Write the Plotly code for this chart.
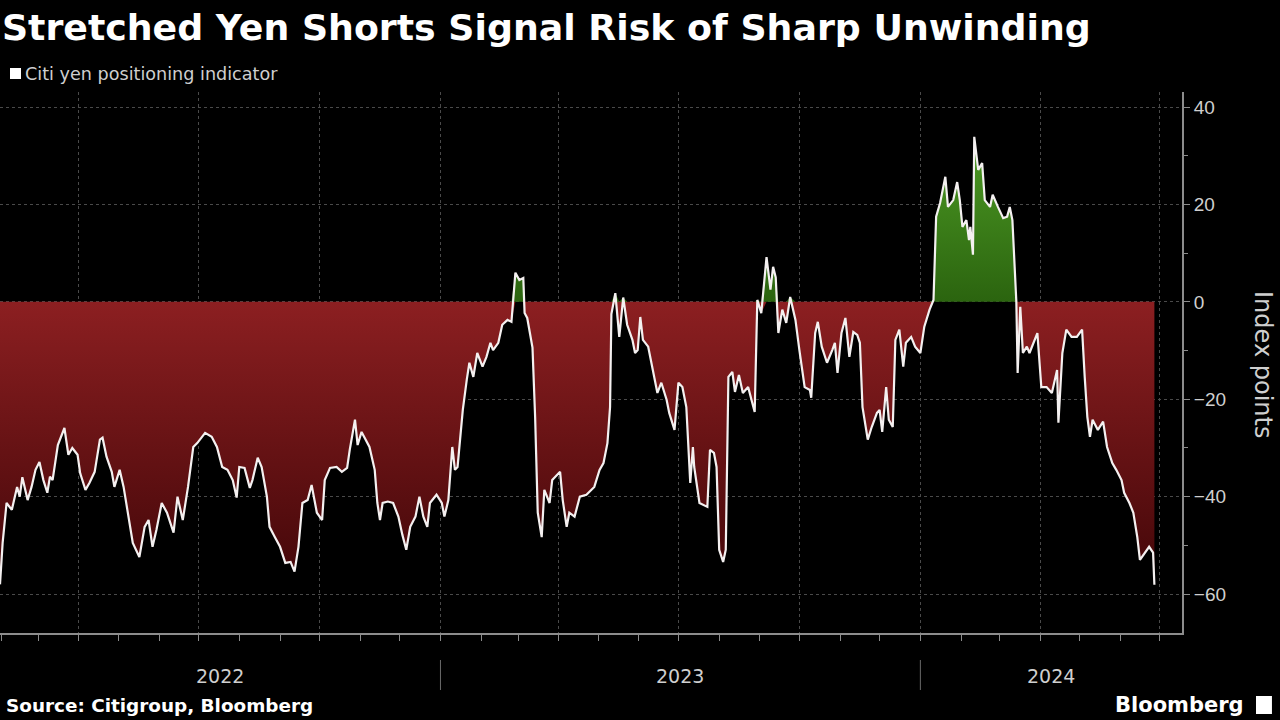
import plotly.graph_objects as go

dates = [
"2022-01-31","2022-02-02","2022-02-05","2022-02-09","2022-02-13","2022-02-15","2022-02-17","2022-02-21","2022-02-24","2022-02-27",
"2022-03-02","2022-03-05","2022-03-08","2022-03-10","2022-03-12","2022-03-16","2022-03-21","2022-03-24","2022-03-27","2022-03-31",
"2022-04-02","2022-04-06","2022-04-09","2022-04-13","2022-04-17","2022-04-19","2022-04-22","2022-04-26","2022-04-28","2022-05-02",
"2022-05-05","2022-05-08","2022-05-12","2022-05-17","2022-05-21","2022-05-24","2022-05-27","2022-05-30","2022-06-03","2022-06-07",
"2022-06-12","2022-06-15","2022-06-19","2022-06-23","2022-06-27","2022-06-30","2022-07-06","2022-07-11","2022-07-15","2022-07-19",
"2022-07-23","2022-07-27","2022-07-30","2022-08-01","2022-08-05","2022-08-09","2022-08-11","2022-08-15","2022-08-18","2022-08-22",
"2022-08-24","2022-08-28","2022-09-01","2022-09-05","2022-09-09","2022-09-12","2022-09-15","2022-09-18","2022-09-22","2022-09-25",
"2022-09-29","2022-10-03","2022-10-05","2022-10-09","2022-10-14","2022-10-18","2022-10-22","2022-10-24","2022-10-28","2022-10-30",
"2022-11-02","2022-11-08","2022-11-12","2022-11-14","2022-11-16","2022-11-18","2022-11-22","2022-11-26","2022-11-30","2022-12-03",
"2022-12-06","2022-12-09","2022-12-13","2022-12-16","2022-12-19","2022-12-22","2022-12-24","2022-12-29","2023-01-02","2023-01-04",
"2023-01-07","2023-01-10","2023-01-12","2023-01-14","2023-01-18","2023-01-21","2023-01-23","2023-01-26","2023-01-29","2023-02-02",
"2023-02-05","2023-02-08","2023-02-10","2023-02-14","2023-02-17","2023-02-21","2023-02-24","2023-02-27","2023-03-02","2023-03-05",
"2023-03-06","2023-03-08","2023-03-12","2023-03-14","2023-03-16","2023-03-19","2023-03-21","2023-03-25","2023-03-27","2023-04-02",
"2023-04-04","2023-04-07","2023-04-09","2023-04-13","2023-04-17","2023-04-22","2023-04-28","2023-05-02","2023-05-05","2023-05-08",
"2023-05-10","2023-05-11","2023-05-14","2023-05-17","2023-05-20","2023-05-23","2023-05-27","2023-05-29","2023-05-31","2023-06-02",
"2023-06-04","2023-06-08","2023-06-12","2023-06-15","2023-06-18","2023-06-22","2023-06-24","2023-06-28","2023-07-01","2023-07-04",
"2023-07-07","2023-07-10","2023-07-12","2023-07-13","2023-07-17","2023-07-23","2023-07-25","2023-07-28","2023-07-30","2023-08-01",
"2023-08-04","2023-08-06","2023-08-08","2023-08-11","2023-08-13","2023-08-16","2023-08-19","2023-08-23","2023-08-28","2023-08-30",
"2023-09-02","2023-09-06","2023-09-09","2023-09-11","2023-09-13","2023-09-15","2023-09-18","2023-09-21","2023-09-24","2023-09-28",
"2023-10-01","2023-10-05","2023-10-09","2023-10-10","2023-10-13","2023-10-15","2023-10-18","2023-10-22","2023-10-26","2023-10-28",
"2023-10-30","2023-11-02","2023-11-05","2023-11-08","2023-11-11","2023-11-14","2023-11-16","2023-11-18","2023-11-22","2023-11-25",
"2023-11-29","2023-12-01","2023-12-03","2023-12-06","2023-12-08","2023-12-11","2023-12-13","2023-12-16","2023-12-19","2023-12-21",
"2023-12-25","2023-12-28","2024-01-01","2024-01-04","2024-01-08","2024-01-11","2024-01-13","2024-01-16","2024-01-20","2024-01-22",
"2024-01-26","2024-01-29","2024-01-31","2024-02-02","2024-02-05","2024-02-07","2024-02-08","2024-02-10","2024-02-11","2024-02-14",
"2024-02-17","2024-02-19","2024-02-23","2024-02-25","2024-02-29","2024-03-04","2024-03-07","2024-03-09","2024-03-11","2024-03-14",
"2024-03-15","2024-03-17","2024-03-19","2024-03-22","2024-03-24","2024-03-28","2024-03-30","2024-04-02","2024-04-06","2024-04-10",
"2024-04-14","2024-04-15","2024-04-18","2024-04-21","2024-04-25","2024-04-29","2024-05-03","2024-05-05","2024-05-07","2024-05-09",
"2024-05-11","2024-05-15","2024-05-19","2024-05-22","2024-05-26","2024-05-29","2024-06-02","2024-06-04","2024-06-08","2024-06-11",
"2024-06-14","2024-06-16","2024-06-20","2024-06-23","2024-06-26","2024-06-27",
]

values = [
-58.0,-49.5,-41.3,-42.7,-38.0,-40.0,-36.0,-40.7,-38.0,-34.5,
-32.9,-36.6,-39.2,-35.9,-36.6,-29.4,-25.9,-31.4,-30.0,-31.4,
-35.2,-38.6,-37.2,-34.9,-28.3,-27.9,-31.8,-34.9,-38.0,-34.5,
-38.0,-43.3,-49.5,-52.4,-46.2,-44.8,-50.3,-46.8,-41.3,-43.3,
-47.4,-40.0,-44.8,-38.0,-29.8,-29.0,-26.9,-27.7,-29.8,-33.9,
-34.5,-36.6,-40.2,-33.9,-34.1,-38.2,-36.6,-32.0,-33.9,-40.0,
-46.2,-48.3,-50.3,-53.6,-53.4,-55.4,-50.3,-41.3,-40.7,-37.6,
-43.3,-44.8,-36.6,-34.1,-33.9,-34.9,-34.1,-30.4,-24.2,-29.4,
-26.7,-29.8,-34.5,-41.3,-44.8,-41.3,-41.0,-41.3,-44.1,-47.8,
-50.9,-46.2,-44.1,-40.0,-44.1,-46.2,-41.3,-39.6,-41.3,-44.1,
-40.7,-29.8,-34.5,-33.9,-22.2,-16.0,-12.5,-15.4,-10.5,-13.3,
-11.3,-8.4,-9.9,-8.4,-4.7,-3.7,-4.1,6.0,4.5,4.9,
-2.3,-3.3,-9.4,-23.6,-43.3,-48.3,-38.6,-41.3,-36.6,-34.9,
-40.7,-46.2,-43.3,-44.1,-40.0,-39.6,-38.0,-34.5,-33.1,-29.0,
-21.6,-2.5,1.8,-7.2,0.9,-4.7,-7.8,-10.5,-9.9,-3.1,
-7.8,-9.2,-14.6,-18.7,-16.6,-20.1,-22.8,-26.3,-16.6,-17.5,
-21.6,-37.2,-29.8,-33.9,-41.3,-42.1,-30.4,-31.0,-33.9,-50.9,
-53.4,-50.9,-15.4,-14.4,-18.5,-15.0,-18.7,-17.5,-22.6,0.4,
-2.3,9.2,2.5,7.2,5.0,-6.4,-1.6,-4.3,1.0,-3.7,
-9.9,-17.5,-18.1,-19.7,-6.4,-4.1,-9.2,-12.5,-9.9,-8.4,
-14.6,-6.4,-3.3,-11.3,-6.2,-6.8,-8.4,-21.6,-28.3,-25.7,
-22.8,-22.2,-26.7,-17.5,-24.2,-25.7,-7.8,-5.7,-13.3,-8.4,
-7.2,-9.2,-10.5,-5.1,-1.6,0.4,17.5,20.3,25.7,19.5,
20.9,24.6,20.9,15.4,16.8,12.7,15.4,9.7,33.9,27.1,
28.5,20.9,19.5,22.0,19.5,17.2,17.5,19.5,16.8,0.0,
-14.6,-1.0,-10.5,-9.2,-10.5,-7.8,-6.4,-17.5,-17.5,-18.7,
-14.0,-24.8,-10.5,-5.7,-7.2,-7.2,-5.7,-15.4,-23.6,-27.7,
-24.2,-26.3,-24.6,-29.8,-33.1,-34.5,-36.6,-39.2,-41.3,-43.3,
-48.3,-53.0,-51.5,-50.3,-51.5,-58.1,
]

year_labels = ["2022", "2023", "2024"]
year_label_dates = ["2022-07-17", "2023-07-02", "2024-04-09"]
year_breaks = ["2023-01-01", "2024-01-01"]
y_ticks = [40, 20, 0, -20, -40, -60]

title = "Stretched Yen Shorts Signal Risk of Sharp Unwinding"
series_name = "Citi yen positioning indicator"
source = "Source: Citigroup, Bloomberg"

neg = [min(v, 0) for v in values]
pos = [max(v, 0) for v in values]

fig = go.Figure()
fig.add_trace(go.Scatter(
    x=dates, y=neg, mode="lines", line=dict(width=0), fill="tozeroy",
    fillgradient=dict(type="vertical", start=-62, stop=0,
                      colorscale=[[0, "#3e0507"], [1, "#8c1f21"]]),
    hoverinfo="skip", showlegend=False))
fig.add_trace(go.Scatter(
    x=dates, y=pos, mode="lines", line=dict(width=0), fill="tozeroy",
    fillgradient=dict(type="vertical", start=0, stop=34,
                      colorscale=[[0, "#2b640f"], [1, "#4d9a24"]]),
    hoverinfo="skip", showlegend=False))
fig.add_trace(go.Scatter(
    x=dates, y=values, mode="lines", name=series_name,
    line=dict(color="#f4f0f0", width=2.2), showlegend=False))

axis_col = "#8c8c8c"
txt_col = "#cfcfcf"
grid_col = "#4a4a4a"
main_font = "DejaVu Sans"

fig.update_layout(
    width=1280, height=720,
    paper_bgcolor="black", plot_bgcolor="black",
    margin=dict(l=0, r=98, t=92, b=87),
    font=dict(family=main_font, color=txt_col),
    title=dict(text=f"<b>{title}</b>", xref="container", yref="container",
               x=0.0015, y=0.962, xanchor="left", yanchor="middle",
               font=dict(family=main_font, size=36.3, color="white")),
    xaxis=dict(
        type="date", range=["2022-01-31", "2024-07-18"],
        tick0="2022-01-01", dtick="M3", ticks="outside", ticklen=6,
        tickcolor=axis_col, tickwidth=1, showticklabels=False,
        showgrid=True, gridcolor=grid_col, griddash="dot", gridwidth=1,
        showline=True, linecolor=axis_col, linewidth=2,
        minor=dict(dtick="M1", tick0="2022-01-01", ticks="outside",
                   ticklen=6, tickcolor=axis_col, showgrid=False),
        zeroline=False,
    ),
    yaxis=dict(
        side="right", range=[-68, 43.1], tickvals=y_ticks,
        ticks="outside", ticklen=6, tickcolor=axis_col,
        showline=True, linecolor=axis_col, linewidth=2,
        showgrid=True, gridcolor=grid_col, griddash="dot", gridwidth=1,
        zeroline=False,
        tickfont=dict(family="Liberation Sans", size=19, color=txt_col),
        minor=dict(dtick=10, ticks="outside", ticklen=4,
                   tickcolor=axis_col, showgrid=False),
    ),
)

annotations = []
for lab, d in zip(year_labels, year_label_dates):
    annotations.append(dict(x=d, xref="x", y=-0.0795, yref="paper",
                            text=lab, showarrow=False,
                            font=dict(size=19, color=txt_col),
                            xanchor="center", yanchor="middle"))
annotations += [
    dict(x=0.0195, xref="paper", y=1.0333, yref="paper", text=series_name,
         showarrow=False, xanchor="left", yanchor="middle",
         font=dict(size=17.6, color=txt_col)),
    dict(x=0.003, xref="paper", y=-0.1331, yref="paper",
         text=f"<b>{source}</b>", showarrow=False, xanchor="left",
         yanchor="middle", font=dict(size=18.4, color="white")),
    dict(x=1.0541, xref="paper", y=-0.1331, yref="paper",
         text="<b>Bloomberg</b>", showarrow=False, xanchor="right",
         yanchor="middle", font=dict(size=21, color="white")),
    dict(x=1.0685, xref="paper", y=0.4954, yref="paper",
         text="Index points", textangle=90, showarrow=False,
         xanchor="center", yanchor="middle",
         font=dict(size=24, color=txt_col)),
]
fig.update_layout(annotations=annotations)

shapes = [
    dict(type="rect", xref="paper", yref="paper", x0=0.00846, x1=0.01777,
         y0=1.024, y1=1.0444, fillcolor="white", line=dict(width=0)),
    dict(type="rect", xref="paper", yref="paper", x0=1.0626, x1=1.0761,
         y0=-0.1497, y1=-0.1165, fillcolor="white", line=dict(width=0)),
]
for d in year_breaks:
    shapes.append(dict(type="line", xref="x", yref="paper", x0=d, x1=d,
                       y0=-0.0499, y1=-0.1054,
                       line=dict(color="#6a6a6a", width=1)))
fig.update_layout(shapes=shapes)

fig.write_html("out.html",
               config={"displayModeBar": False},
               post_script="document.body.style.margin='0';"
                           "document.body.style.overflow='hidden';"
                           "document.body.style.background='black';")
